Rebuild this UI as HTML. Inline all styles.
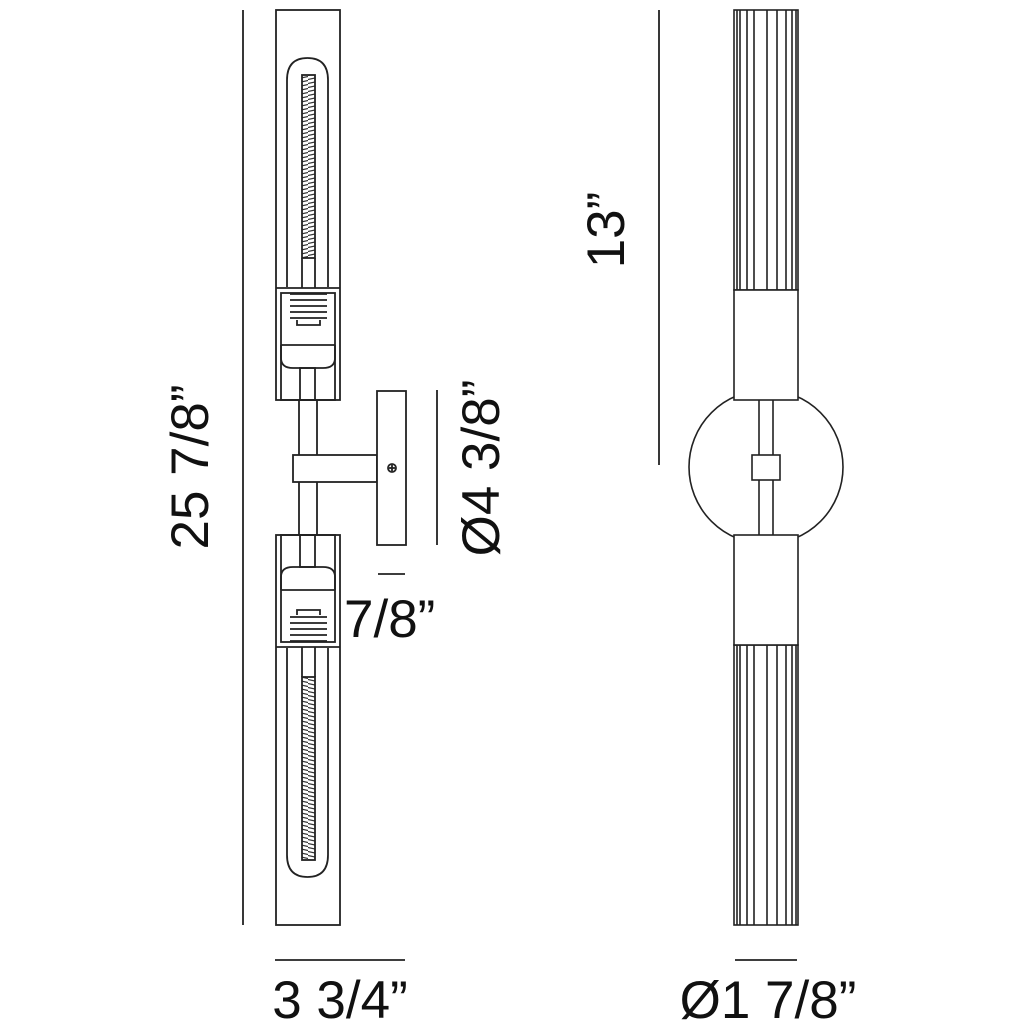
<!DOCTYPE html>
<html><head><style>
html,body{margin:0;padding:0;background:#fff;}
svg{display:block}
text{font-family:"Liberation Sans",Arial,sans-serif;fill:#111;font-size:53px}
</style></head><body>
<svg width="1024" height="1024" viewBox="0 0 1024 1024" xmlns="http://www.w3.org/2000/svg">
<defs>
<pattern id="coil" width="14" height="4" patternUnits="userSpaceOnUse">
<line x1="0" y1="3.5" x2="14" y2="0.5" stroke="#333" stroke-width="1.2"/>
</pattern>
<g id="lamp" fill="none" stroke="#222" stroke-width="1.8">
<rect x="276" y="10" width="64" height="390"/>
<path d="M287 287 V80 Q287 58 307.5 58 Q328 58 328 80 V287"/>
<line x1="302" y1="258" x2="302" y2="288"/>
<line x1="315" y1="258" x2="315" y2="288"/>
<rect x="302" y="75" width="13" height="183" fill="url(#coil)"/>
<line x1="276" y1="288" x2="340" y2="288"/>
<rect x="281" y="293" width="54" height="107"/>
<path d="M290 294 h37 M290 300 h37 M290 306 h37 M290 312 h37 M290 318 h37"/>
<path d="M297 320 v5 h23 v-5"/>
<line x1="281" y1="345" x2="335" y2="345"/>
<path d="M281 345 V358 Q281 368 293 368 H323 Q335 368 335 358 V345"/>
<rect x="300" y="368" width="15" height="32"/>
</g>
</defs>
<use href="#lamp"/>
<use href="#lamp" transform="translate(0,935) scale(1,-1)"/>
<g fill="none" stroke="#222" stroke-width="1.8">
<line x1="299" y1="400" x2="299" y2="535"/>
<line x1="317" y1="400" x2="317" y2="535"/>
<rect x="293" y="455" width="84" height="27" fill="#fff"/>
<rect x="377" y="391" width="29" height="154" fill="#fff"/>
<circle cx="392" cy="468" r="4"/>
<line x1="389" y1="468" x2="395" y2="468"/>
<line x1="392" y1="465" x2="392" y2="471"/>
</g>
<g stroke="#222" stroke-width="1.8">
<line x1="243" y1="10" x2="243" y2="925"/>
<line x1="437" y1="390" x2="437" y2="545"/>
<line x1="378" y1="574" x2="405" y2="574"/>
<line x1="275" y1="960" x2="405" y2="960"/>
<line x1="659" y1="10" x2="659" y2="465"/>
<line x1="735" y1="960" x2="797" y2="960"/>
</g>
<g fill="none" stroke="#222" stroke-width="1.6">
<rect x="734" y="10" width="64" height="280"/>
<rect x="734" y="645" width="64" height="280"/>
<path d="M737 10V290M740 10V290M747 10V290M754 10V290M767 10V290M777 10V290M786 10V290M792 10V290M796 10V290"/>
<path d="M737 645V925M740 645V925M747 645V925M754 645V925M767 645V925M777 645V925M786 645V925M792 645V925M796 645V925"/>
<circle cx="766" cy="467" r="77"/>
<rect x="734" y="290" width="64" height="110" fill="#fff"/>
<rect x="734" y="535" width="64" height="110" fill="#fff"/>
<line x1="759" y1="400" x2="759" y2="535"/>
<line x1="773" y1="400" x2="773" y2="535"/>
<rect x="752" y="455" width="28" height="25" fill="#fff"/>
</g>
<text transform="translate(208,467) rotate(-90)" text-anchor="middle">25 7/8”</text>
<text transform="translate(624,230) rotate(-90)" text-anchor="middle">13”</text>
<text transform="translate(499,468) rotate(-90)" text-anchor="middle">Ø4 3/8”</text>
<text x="344" y="637">7/8”</text>
<text x="340" y="1018" text-anchor="middle">3 3/4”</text>
<text x="768" y="1018" text-anchor="middle">Ø1 7/8”</text>
</svg>
</body></html>
